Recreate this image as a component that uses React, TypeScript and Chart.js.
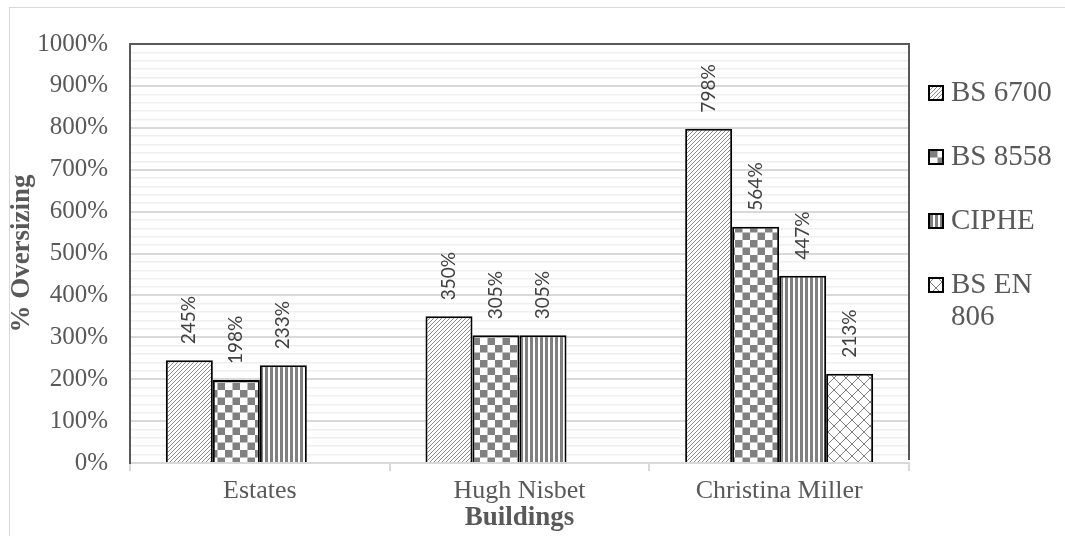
import React, { useEffect, useRef } from 'react';
import { Chart, registerables } from 'chart.js';

Chart.register(...registerables);

const categories = ['Estates', 'Hugh Nisbet', 'Christina Miller'];
const seriesNames = ['BS 6700', 'BS 8558', 'CIPHE', 'BS EN 806'];
const bs6700Values = [245, 350, 798];
const bs8558Values = [198, 305, 564];
const cipheValues = [233, 305, 447];
const bsEn806Values: (number | null)[] = [null, null, 213];
const yMin = 0;
const yMax = 1000;
const yMajorStep = 100;
const yMinorStep = 20;

const SERIF = "'Liberation Serif', 'Times New Roman', serif";
const TEXT = '#595959';
const GRAY = '#808080';

function makeTile(w: number, h: number, draw: (c: CanvasRenderingContext2D) => void) {
  const cv = document.createElement('canvas');
  cv.width = w;
  cv.height = h;
  const c = cv.getContext('2d') as CanvasRenderingContext2D;
  c.fillStyle = '#ffffff';
  c.fillRect(0, 0, w, h);
  draw(c);
  return c.createPattern(cv, 'repeat') as CanvasPattern;
}

function makePatterns() {
  const diag = makeTile(4, 4, (c) => {
    c.strokeStyle = '#8a8a8a';
    c.lineWidth = 1;
    c.beginPath();
    c.moveTo(-1, 5); c.lineTo(5, -1);
    c.moveTo(-1, 1); c.lineTo(1, -1);
    c.moveTo(3, 5); c.lineTo(5, 3);
    c.stroke();
  });
  const checker = makeTile(15, 15, (c) => {
    c.fillStyle = GRAY;
    c.fillRect(0, 0, 7.5, 7.5);
    c.fillRect(7.5, 7.5, 7.5, 7.5);
  });
  const vert = makeTile(5, 5, (c) => {
    c.fillStyle = GRAY;
    c.fillRect(0, 0, 3, 5);
  });
  const cross = makeTile(12, 12, (c) => {
    c.strokeStyle = GRAY;
    c.lineWidth = 1;
    c.beginPath();
    c.moveTo(0, 0); c.lineTo(12, 12);
    c.moveTo(12, 0); c.lineTo(0, 12);
    c.stroke();
  });
  return [diag, checker, vert, cross];
}

const framePlugin = {
  id: 'frame',
  beforeDraw(chart: any) {
    const ctx = chart.ctx;
    ctx.save();
    ctx.fillStyle = '#ffffff';
    ctx.fillRect(0, 0, chart.width, chart.height);
    ctx.strokeStyle = '#d9d9d9';
    ctx.lineWidth = 1;
    ctx.strokeRect(9.5, 7.5, chart.width + 10, chart.height + 10);
    ctx.restore();
  },
  afterDraw(chart: any) {
    const { ctx, chartArea } = chart;
    ctx.save();
    ctx.strokeStyle = '#595959';
    ctx.lineWidth = 2;
    ctx.beginPath();
    ctx.moveTo(chartArea.left, chartArea.top);
    ctx.lineTo(chartArea.right, chartArea.top);
    ctx.lineTo(chartArea.right, chartArea.bottom - 3);
    ctx.stroke();
    ctx.restore();
  },
};

const labelPlugin = {
  id: 'barLabels',
  afterDatasetsDraw(chart: any) {
    const ctx = chart.ctx;
    ctx.save();
    ctx.font = "19px Lato, 'Liberation Sans', sans-serif";
    ctx.fillStyle = '#404040';
    ctx.textAlign = 'left';
    ctx.textBaseline = 'middle';
    chart.data.datasets.forEach((ds: any, di: number) => {
      const meta = chart.getDatasetMeta(di);
      meta.data.forEach((el: any, i: number) => {
        const v = ds.data[i];
        if (v === null || v === undefined) return;
        ctx.save();
        ctx.translate(el.x, el.y - 16);
        ctx.rotate(-Math.PI / 2);
        ctx.fillText(v + '%', 0, 0);
        ctx.restore();
      });
    });
    ctx.restore();
  },
};

const legendPlugin = {
  id: 'sideLegend',
  afterDraw(chart: any) {
    const ctx = chart.ctx;
    ctx.save();
    ctx.font = `29px ${SERIF}`;
    ctx.textBaseline = 'middle';
    ctx.textAlign = 'left';
    const markerX = 928;
    const textX = 951;
    const maxW = 112;
    const lineH = 32;
    let y = 93;
    chart.data.datasets.forEach((ds: any) => {
      const words = String(ds.label).split(' ');
      const lines: string[] = [];
      let cur = '';
      words.forEach((w) => {
        const t = cur ? cur + ' ' + w : w;
        if (ctx.measureText(t).width > maxW && cur) {
          lines.push(cur);
          cur = w;
        } else cur = t;
      });
      if (cur) lines.push(cur);
      ctx.fillStyle = ds.backgroundColor;
      ctx.fillRect(markerX, y - 8, 16, 16);
      ctx.strokeStyle = '#000000';
      ctx.lineWidth = 2;
      ctx.strokeRect(markerX + 1, y - 7, 14, 14);
      ctx.fillStyle = TEXT;
      lines.forEach((ln, li) => ctx.fillText(ln, textX, y + li * lineH));
      y += 64 + (lines.length - 1) * 4;
    });
    ctx.restore();
  },
};

export default function App() {
  const ref = useRef<HTMLCanvasElement | null>(null);
  useEffect(() => {
    if (!ref.current) return;
    const pats = makePatterns();
    const seriesValues = [bs6700Values, bs8558Values, cipheValues, bsEn806Values];
    const chart = new Chart(ref.current, {
      type: 'bar',
      data: {
        labels: categories,
        datasets: seriesNames.map((name, i) => ({
          label: name,
          data: seriesValues[i],
          backgroundColor: pats[i],
          borderColor: '#000000',
          borderWidth: 2,
          barPercentage: 1,
          categoryPercentage: 0.724,
        })),
      },
      options: {
        animation: false,
        responsive: false,
        maintainAspectRatio: false,
        layout: { padding: { left: 0, top: 44, right: 156, bottom: 0 } },
        plugins: {
          legend: { display: false },
          tooltip: { enabled: false },
        },
        scales: {
          x: {
            afterFit: (s: any) => { s.height = 73; },
            grid: {
              drawOnChartArea: false,
              drawTicks: true,
              tickLength: 8,
              color: '#d9d9d9',
              lineWidth: 2,
            },
            border: { color: '#d9d9d9', width: 2 },
            ticks: {
              color: TEXT,
              font: { family: SERIF, size: 26 },
              padding: 5,
            },
            title: {
              display: true,
              text: 'Buildings',
              color: TEXT,
              font: { family: SERIF, size: 27, weight: 'bold' },
              padding: { top: 0, bottom: 2 },
            },
          },
          y: {
            min: yMin,
            max: yMax,
            afterFit: (s: any) => { s.width = 130; },
            ticks: {
              stepSize: yMinorStep,
              autoSkip: false,
              color: TEXT,
              font: { family: SERIF, size: 25 },
              padding: 22,
              callback: (v: any) => (Number(v) % yMajorStep === 0 ? v + '%' : ''),
            },
            grid: {
              drawTicks: false,
              color: (c: any) => (c.tick && c.tick.value % yMajorStep === 0 ? '#d9d9d9' : '#efefef'),
              lineWidth: (c: any) => (c.tick && c.tick.value % yMajorStep === 0 ? 2 : 1.5),
            },
            border: { color: '#595959', width: 2 },
            title: {
              display: true,
              text: '% Oversizing',
              color: TEXT,
              font: { family: SERIF, size: 27, weight: 'bold' },
              padding: { top: 6, bottom: 0 },
            },
          },
        },
      },
      plugins: [framePlugin, labelPlugin, legendPlugin],
    } as any);
    return () => chart.destroy();
  }, []);
  return (
    <div style={{ position: 'absolute', left: 0, top: 0, width: 1065, height: 536 }}>
      <canvas ref={ref} width={1065} height={536} style={{ width: 1065, height: 536, display: 'block' }} />
    </div>
  );
}
